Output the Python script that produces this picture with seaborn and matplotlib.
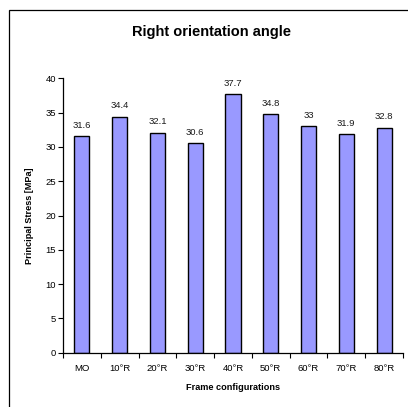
import matplotlib
matplotlib.use("Agg")
import matplotlib.pyplot as plt
import seaborn as sns
import numpy as np
import pandas as pd
from matplotlib.patches import Rectangle
from matplotlib.ticker import FixedLocator

configs = ["MO", "10°R", "20°R", "30°R", "40°R", "50°R", "60°R", "70°R", "80°R"]
stress = [31.6, 34.4, 32.1, 30.6, 37.7, 34.8, 33.0, 31.9, 32.8]
yticks = [0, 5, 10, 15, 20, 25, 30, 35, 40]

sns.set_style("white")
plt.rcParams["font.family"] = ["Liberation Sans", "DejaVu Sans"]
plt.rcParams["text.color"] = "black"
plt.rcParams["axes.labelcolor"] = "black"
plt.rcParams["xtick.color"] = "black"
plt.rcParams["ytick.color"] = "black"

df = pd.DataFrame({"config": configs, "stress": stress})

fig = plt.figure(figsize=(4.08, 4.07), dpi=100)
ax = fig.add_axes([0.1544, 0.1334, 0.8333, 0.6742])

sns.barplot(data=df, x="config", y="stress", color="#9999ff", saturation=1,
            edgecolor="black", linewidth=1.0, width=0.4, ax=ax)

ax.bar_label(ax.containers[0], labels=[f"{v:g}" for v in stress],
             padding=4.5, fontsize=6.8, color="#1a1a1a")

ax.set_ylim(0, 40)
ax.set_xlim(-0.5, len(configs) - 0.5)
ax.set_yticks(yticks)
ax.tick_params(axis="y", labelsize=6.8, length=3.5, width=0.8, direction="out",
               left=True, pad=1.5)
ax.tick_params(axis="x", which="major", labelsize=6.8, length=0, pad=8)
ax.xaxis.set_minor_locator(FixedLocator(np.arange(-0.5, len(configs), 1.0)))
ax.tick_params(axis="x", which="minor", length=3.5, width=0.8, bottom=True,
               direction="out")

for side in ("top", "right"):
    ax.spines[side].set_visible(False)
for side in ("left", "bottom"):
    ax.spines[side].set_color("black")
    ax.spines[side].set_linewidth(0.9)

ax.set_xlabel("Frame configurations", fontsize=6.6, fontweight="bold", labelpad=7)
ax.set_ylabel("Principal Stress [MPa]", fontsize=6.6, fontweight="bold", labelpad=8)

fig.text(211.5 / 408, 1 - 32 / 407, "Right orientation angle", ha="center",
         va="center", fontsize=10.5, fontweight="bold")

# chart-area border
fig.patches.append(Rectangle((9 / 408, -0.1), 1.5, 1 - 10 / 407 + 0.1,
                             transform=fig.transFigure, fill=False,
                             edgecolor="black", linewidth=0.9))

fig.savefig("out.png", dpi=100)
